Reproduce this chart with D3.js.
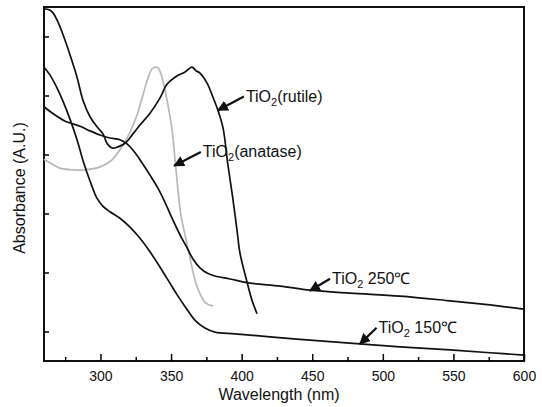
<html>
<head>
  <script src="https://d3js.org/d3.v7.min.js"></script>
  <style>
  body { margin: 0; background: #fff; }
  text { font-family: Arial, "Liberation Sans", sans-serif; fill: #111; }
  .curve { fill: none; stroke-width: 1.7; stroke-linejoin: round; }
  </style>
</head>
<body>
<div id="chart"></div>
<script>
var width = 542,
  height = 407;

// wavelength (nm) / absorbance (a.u.)
var rutileX = [260, 264, 266.4, 269.2, 273.5, 278.4, 283.4, 287.6, 292.6, 297.5, 301.8, 304.6, 308.2, 312.4, 317.4, 323, 328, 335.1, 342.2, 347.1, 352.8, 359.9, 364.8, 367.7, 370.5, 375.5, 379.7, 383.2, 386.8, 390.3, 393.9, 396.7, 398.8, 403.8, 407.3, 410.9];
var rutileY = [5.97, 5.95, 5.9, 5.78, 5.53, 5.19, 4.81, 4.42, 4.14, 3.97, 3.85, 3.69, 3.61, 3.63, 3.69, 3.85, 4.0, 4.2, 4.46, 4.69, 4.81, 4.9, 4.98, 4.92, 4.88, 4.71, 4.47, 4.25, 3.95, 3.32, 2.73, 2.22, 1.83, 1.34, 1.03, 0.8];

var anataseX = [260, 264.2, 271.3, 280.5, 289, 299.7, 308.2, 316, 320.9, 325.9, 330.1, 333.7, 336.5, 338.6, 340.8, 342.9, 345.7, 347.8, 350.7, 352.8, 354.9, 357, 359.9, 363.4, 367, 370.5, 374.7, 379.7];
var anataseY = [3.42, 3.36, 3.27, 3.24, 3.24, 3.29, 3.41, 3.66, 3.88, 4.17, 4.51, 4.8, 4.95, 4.98, 4.97, 4.86, 4.59, 4.34, 3.92, 3.41, 2.9, 2.47, 2.14, 1.75, 1.37, 1.14, 0.98, 0.93];

var t250X = [260, 267.8, 276.3, 285.5, 292.6, 299.7, 306.7, 313.8, 318.8, 324.5, 329.4, 335.1, 340.7, 345.7, 350.7, 356.3, 361.3, 365.5, 370.5, 375.5, 381.1, 391.7, 405.9, 427.2, 448.4, 476.7, 512.2, 547.6, 575.9, 600];
var t250Y = [4.31, 4.17, 4.05, 3.98, 3.9, 3.83, 3.78, 3.75, 3.68, 3.53, 3.36, 3.15, 2.93, 2.69, 2.42, 2.14, 1.92, 1.73, 1.58, 1.49, 1.44, 1.39, 1.32, 1.27, 1.2, 1.15, 1.1, 1.02, 0.95, 0.88];

var t150X = [260, 264.2, 269.2, 273.5, 278.4, 283.4, 287.6, 292.6, 297.5, 301.8, 306.7, 313.8, 320.9, 328, 335.1, 342.2, 349.2, 354.9, 360.6, 367, 374, 381.1, 395.3, 420.1, 455.5, 483.8, 512.2, 547.6, 575.9, 600];
var t150Y = [4.98, 4.85, 4.63, 4.4, 4.1, 3.75, 3.4, 3.05, 2.76, 2.62, 2.53, 2.42, 2.27, 2.08, 1.85, 1.59, 1.32, 1.1, 0.9, 0.69, 0.56, 0.49, 0.46, 0.41, 0.34, 0.29, 0.24, 0.19, 0.14, 0.1];

var xTicks = [300, 350, 400, 450, 500, 550, 600];
var xMinor = [275, 325, 375, 425, 475, 525, 575];
var yTicks = [0.5, 1.5, 2.5, 3.5, 4.5, 5.5];

// labels: text, anchor point on the curve (x, y), label position (x, y)
var labelText = ["(rutile)", "(anatase)", " 250℃", " 150℃"];
var labelAt = [[383.2, 4.25], [352.2, 3.31], [448.4, 1.19], [483.8, 0.29]];
var labelPos = [[403, 4.5], [372.5, 3.56], [464, 1.41], [497, 0.58]];

var svg = d3.select("#chart").append("svg")
    .attr("width", width)
    .attr("height", height);

var x = d3.scaleLinear().domain([260, 600]).range([44, 524]);
var y = d3.scaleLinear().domain([0, 6]).range([361, 7]);

// frame
svg.append("rect")
  .attr("x", 44).attr("y", 7)
  .attr("width", 480).attr("height", 354)
  .attr("fill", "none").attr("stroke", "#111").attr("stroke-width", 2);

var xAxis = svg.append("g")
  .attr("transform", "translate(0,361)")
  .call(d3.axisBottom(x).tickValues(xTicks).tickSizeInner(-7).tickSizeOuter(0).tickPadding(10));
xAxis.select(".domain").remove();
xAxis.selectAll("text").attr("font-size", 14).attr("font-family", "Arial, 'Liberation Sans', sans-serif");
xAxis.selectAll("line").attr("stroke-width", 1.5);

var xAxisMinor = svg.append("g")
  .attr("transform", "translate(0,361)")
  .call(d3.axisBottom(x).tickValues(xMinor).tickSizeInner(-4).tickSizeOuter(0).tickFormat(""));
xAxisMinor.select(".domain").remove();
xAxisMinor.selectAll("line").attr("stroke-width", 1.5);

var yAxis = svg.append("g")
  .attr("transform", "translate(44,0)")
  .call(d3.axisLeft(y).tickValues(yTicks).tickSizeInner(-5).tickSizeOuter(0).tickFormat(""));
yAxis.select(".domain").remove();
yAxis.selectAll("line").attr("stroke-width", 1.5);

svg.append("text")
  .attr("x", 279).attr("y", 400)
  .attr("text-anchor", "middle")
  .attr("font-size", 16)
  .text("Wavelength (nm)");

svg.append("text")
  .attr("transform", "translate(25,188) rotate(-90)")
  .attr("text-anchor", "middle")
  .attr("font-size", 16)
  .text("Absorbance (A.U.)");

var line = d3.line().curve(d3.curveCatmullRom);

function drawCurve(xs, ys, color){
  svg.append("path")
    .attr("class", "curve")
    .attr("stroke", color)
    .attr("d", line(xs.map(function(d, i){ return [x(d), y(ys[i])]; })));
}

drawCurve(anataseX, anataseY, "#b8b8b8");
drawCurve(rutileX, rutileY, "#111");
drawCurve(t250X, t250Y, "#111");
drawCurve(t150X, t150Y, "#111");

svg.append("defs").append("marker")
  .attr("id", "arrow")
  .attr("viewBox", "0 0 10 10")
  .attr("refX", 9).attr("refY", 5)
  .attr("markerWidth", 5).attr("markerHeight", 5)
  .attr("orient", "auto")
  .append("path")
  .attr("d", "M0,0 L10,5 L0,10 z")
  .attr("fill", "#111");

for (var i = 0; i < labelText.length; i++) {
  var p0 = labelPos[i], p1 = labelAt[i];
  svg.append("line")
    .attr("x1", x(p0[0]) - 2).attr("y1", y(p0[1]) + 1)
    .attr("x2", x(p1[0])).attr("y2", y(p1[1]))
    .attr("stroke", "#111").attr("stroke-width", 2.2)
    .attr("marker-end", "url(#arrow)");

  var t = svg.append("text")
    .attr("x", x(p0[0])).attr("y", y(p0[1]) + 6)
    .attr("font-size", 16)
    .attr("font-family", "'Noto Sans', 'Open Sans', sans-serif");
  t.append("tspan").text("TiO");
  t.append("tspan").attr("font-size", 11).attr("dy", 4).text("2");
  t.append("tspan").attr("dy", -4).text(labelText[i]);
}
</script>
</body></html>
